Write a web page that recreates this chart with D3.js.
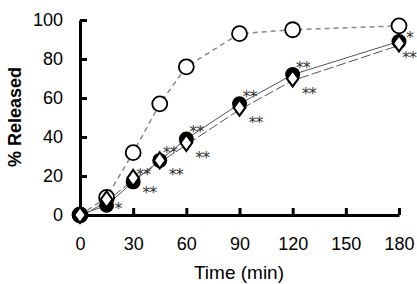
<!DOCTYPE html>
<html>
<head>
<meta charset="utf-8">
<script src="https://cdn.jsdelivr.net/npm/d3@7"></script>
<style>
  body { margin: 0; background: #fff; }
  text { font-family: "Liberation Sans", Arial, sans-serif; }
</style>
</head>
<body>
<div id="chart"></div>
<script>
// data
const times = [0, 15, 30, 45, 60, 90, 120, 180]
const openCircle = [0, 9, 32, 57, 76, 93, 95, 97]
const openCircleErr = [0, 0, 0, 0, 0, 3, 0, 0]
const filledCircle = [0, 5, 17, 28, 39, 57, 72, 89]
const openDiamond = [0, 8, 19, 28, 37, 55, 70, 88]
// significance marks: [time, label]
const starsFilled = [[15, "*"], [30, "**"], [45, "**"], [60, "**"], [90, "**"], [120, "**"], [180, "*"]]
const starsDiamond = [[30, "**"], [45, "**"], [60, "**"], [90, "**"], [120, "**"], [180, "**"]]
const xTicks = [0, 30, 60, 90, 120, 150, 180]
const yTicks = [0, 20, 40, 60, 80, 100]

const width = 417, height = 284

const svg = d3.select("#chart").append("svg")
    .attr("width", width)
    .attr("height", height)

const x = d3.scaleLinear().domain([0, 180]).range([80, 399])
const y = d3.scaleLinear().domain([0, 100]).range([215, 20])

// axes
const xAxis = svg.append("g")
    .attr("transform", `translate(0, ${y(0)})`)
    .call(d3.axisBottom(x).tickValues(xTicks).tickSizeInner(-7).tickSizeOuter(0).tickPadding(22))
const yAxis = svg.append("g")
    .attr("transform", `translate(${x(0)}, 0)`)
    .call(d3.axisLeft(y).tickValues(yTicks).tickSizeInner(-7).tickSizeOuter(0).tickPadding(17))

;[xAxis, yAxis].forEach(a => {
    a.select(".domain").attr("stroke", "#000").attr("stroke-width", 3)
    a.selectAll(".tick line").attr("stroke", "#000").attr("stroke-width", 3)
    a.selectAll(".tick text").attr("font-size", 18).attr("fill", "#000")
        .style("font-family", "Liberation Sans, Arial, sans-serif")
})
xAxis.selectAll(".tick text").attr("dy", "0.71em")

// axis titles
svg.append("text")
    .attr("x", 239)
    .attr("y", 279)
    .attr("text-anchor", "middle")
    .attr("font-size", 19)
    .text("Time (min)")

svg.append("text")
    .attr("transform", `translate(21, 117) rotate(-90)`)
    .attr("text-anchor", "middle")
    .attr("font-size", 18)
    .attr("font-weight", "bold")
    .text("% Released")

const line = d3.line()
    .x((d, i) => x(times[i]))
    .y(d => y(d))

// lines
svg.append("path")
    .datum(openCircle)
    .attr("d", line)
    .attr("fill", "none")
    .attr("stroke", "#888")
    .attr("stroke-width", 1.5)
    .attr("stroke-dasharray", "5,4")

svg.append("path")
    .datum(filledCircle)
    .attr("d", line)
    .attr("fill", "none")
    .attr("stroke", "#555")
    .attr("stroke-width", 1)

svg.append("path")
    .datum(openDiamond)
    .attr("d", line)
    .attr("fill", "none")
    .attr("stroke", "#555")
    .attr("stroke-width", 1)
    .attr("stroke-dasharray", "10,3")
    .attr("transform", "translate(0, 2)")

// error bars (open circle)
openCircle.forEach((v, i) => {
    if (openCircleErr[i] > 0) {
        svg.append("line")
            .attr("x1", x(times[i])).attr("x2", x(times[i]))
            .attr("y1", y(v)).attr("y2", y(v + openCircleErr[i]))
            .attr("stroke", "#000").attr("stroke-width", 1.5)
        svg.append("line")
            .attr("x1", x(times[i]) - 4).attr("x2", x(times[i]) + 4)
            .attr("y1", y(v + openCircleErr[i])).attr("y2", y(v + openCircleErr[i]))
            .attr("stroke", "#000").attr("stroke-width", 2)
    }
})

// markers
svg.selectAll(".oc")
    .data(openCircle)
    .enter()
    .append("circle")
        .attr("class", "oc")
        .attr("cx", (d, i) => x(times[i]))
        .attr("cy", d => y(d))
        .attr("r", 7.5)
        .attr("fill", "#fff")
        .attr("stroke", "#000")
        .attr("stroke-width", 1.8)

svg.selectAll(".fc")
    .data(filledCircle)
    .enter()
    .append("circle")
        .attr("class", "fc")
        .attr("cx", (d, i) => x(times[i]))
        .attr("cy", d => y(d))
        .attr("r", 7.5)
        .attr("fill", "#000")

const diamond = d3.symbol().type(d3.symbolDiamond).size(75)
svg.selectAll(".od")
    .data(openDiamond)
    .enter()
    .append("path")
        .attr("class", "od")
        .attr("d", diamond)
        .attr("transform", (d, i) => `translate(${x(times[i])}, ${y(d)}) scale(1.25, 1)`)
        .attr("fill", "#fff")
        .attr("stroke", "#000")
        .attr("stroke-width", 1.8)

// significance asterisks
const valAt = (arr, t) => arr[times.indexOf(t)]
svg.selectAll(".sf")
    .data(starsFilled)
    .enter()
    .append("text")
        .attr("class", "sf")
        .attr("x", d => x(d[0]) + (d[0] == 15 ? 8 : d[0] == 180 ? 7 : 3))
        .attr("y", d => y(valAt(filledCircle, d[0])) + (d[0] == 15 ? 9 : d[0] == 180 ? 2 : -2))
        .attr("font-size", 16)
        .attr("letter-spacing", -1)
        .attr("fill", "#333")
        .style("font-family", "DejaVu Sans, sans-serif")
        .text(d => d[1])

svg.selectAll(".sd")
    .data(starsDiamond)
    .enter()
    .append("text")
        .attr("class", "sd")
        .attr("x", d => x(d[0]) + (d[0] == 180 ? 3 : 9))
        .attr("y", d => y(valAt(openDiamond, d[0])) + 20)
        .attr("font-size", 16)
        .attr("letter-spacing", -1)
        .attr("fill", "#333")
        .style("font-family", "DejaVu Sans, sans-serif")
        .text(d => d[1])
</script>
</body>
</html>
